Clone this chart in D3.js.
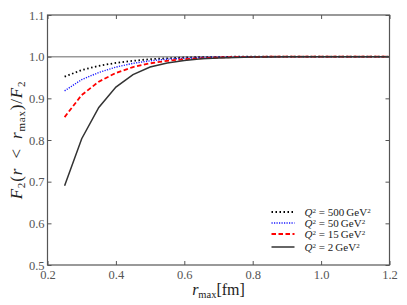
<!DOCTYPE html>
<html>
<head>
<meta charset="utf-8">
<script src="https://cdn.jsdelivr.net/npm/d3@7"></script>
<style>
  body { margin: 0; background: #fff; }
  text { font-family: "Liberation Serif", "DejaVu Serif", serif; }
</style>
</head>
<body>
<svg id="chart"></svg>
<script>
// r_max values (fm)
const rmax = [0.25, 0.30, 0.35, 0.40, 0.45, 0.50, 0.55, 0.60, 0.65, 0.70, 0.75, 0.80, 0.85, 0.90, 0.95, 1.00, 1.05, 1.10, 1.15, 1.20];
const q500 = [0.952, 0.968, 0.978, 0.985, 0.990, 0.994, 0.996, 0.998, 0.999, 0.999, 1, 1, 1, 1, 1, 1, 1, 1, 1, 1];
const q50  = [0.918, 0.945, 0.962, 0.975, 0.984, 0.990, 0.994, 0.996, 0.998, 0.999, 0.999, 1, 1, 1, 1, 1, 1, 1, 1, 1];
const q15  = [0.855, 0.908, 0.940, 0.961, 0.975, 0.984, 0.990, 0.994, 0.996, 0.998, 0.999, 0.999, 1, 1, 1, 1, 1, 1, 1, 1];
const q2   = [0.690, 0.803, 0.878, 0.927, 0.957, 0.975, 0.985, 0.991, 0.995, 0.997, 0.998, 0.999, 0.999, 1, 1, 1, 1, 1, 1, 1];
const labels = ['500', '50', '15', '2'];
const xTicks = [0.2, 0.4, 0.6, 0.8, 1.0, 1.2];
const yTicks = [0.5, 0.6, 0.7, 0.8, 0.9, 1.0, 1.1];

const largura = 407, altura = 305;
const m = {left: 47.5, right: 17.5, top: 15, bottom: 40};
const w = largura - m.left - m.right;
const h = altura - m.top - m.bottom;

const svg = d3.select('#chart').attr('width', largura).attr('height', altura);
const g = svg.append('g').attr('transform', `translate(${m.left},${m.top})`);

const x = d3.scaleLinear().domain([0.2, 1.2]).range([0, w]);
const y = d3.scaleLinear().domain([0.5, 1.1]).range([h, 0]);

// reference line at 1.0
g.append('line')
  .attr('x1', 0).attr('x2', w)
  .attr('y1', y(1)).attr('y2', y(1))
  .attr('stroke', '#999').attr('stroke-width', 1.5);

const series = [
  {vals: q500, color: '#000', dash: '1.5,2.5', width: 1.8},
  {vals: q50,  color: '#1a1aff', dash: '1.2,1.3', width: 1.4},
  {vals: q15,  color: '#ff0000', dash: '4.5,2.5', width: 1.8},
  {vals: q2,   color: '#333', dash: null, width: 1.5}
];

const linha = d3.line().x((d, i) => x(rmax[i])).y(d => y(d));

series.forEach(s => {
  g.append('path')
    .datum(s.vals)
    .attr('d', linha)
    .attr('fill', 'none')
    .attr('stroke', s.color)
    .attr('stroke-width', s.width)
    .attr('stroke-dasharray', s.dash);
});

// axes with inward ticks on all sides
const fmt = d3.format('.1f');
const estilo = sel => {
  sel.select('.domain').remove();
  sel.selectAll('.tick line').attr('stroke', '#555');
  sel.selectAll('.tick text').attr('fill', '#555').style('font-size', '12.5px')
    .style('font-family', '"Liberation Serif", serif');
};
g.append('g').attr('transform', `translate(0,${h})`)
  .call(d3.axisBottom(x).tickValues(xTicks).tickFormat(fmt).tickSizeInner(-4).tickPadding(5))
  .call(estilo);
g.append('g')
  .call(d3.axisTop(x).tickValues(xTicks).tickFormat('').tickSizeInner(-4))
  .call(estilo);
g.append('g')
  .call(d3.axisLeft(y).tickValues(yTicks).tickFormat(fmt).tickSizeInner(-4).tickPadding(3))
  .call(estilo);
g.append('g').attr('transform', `translate(${w},0)`)
  .call(d3.axisRight(y).tickValues(yTicks).tickFormat('').tickSizeInner(-4))
  .call(estilo);

g.append('rect')
  .attr('width', w).attr('height', h)
  .attr('fill', 'none').attr('stroke', '#555').attr('stroke-width', 1.2);

// legend
const leg = g.append('g').attr('transform', `translate(${271.5 - m.left},${212 - m.top})`);
const rowsY = [0, 11, 22, 35];
series.forEach((s, i) => {
  const r = leg.append('g').attr('transform', `translate(0,${rowsY[i]})`);
  r.append('line').attr('x1', 0).attr('x2', 23).attr('y1', 0).attr('y2', 0)
    .attr('stroke', s.color).attr('stroke-width', s.width).attr('stroke-dasharray', s.dash);
  const t = r.append('text').attr('x', 33).attr('y', 4).style('font-size', '11px').attr('fill', '#222');
  t.append('tspan').style('font-style', 'italic').text('Q');
  t.append('tspan').attr('dy', -3.5).style('font-size', '7px').text('2');
  t.append('tspan').attr('dy', 3.5).text(' = ' + labels[i] + '\u2009GeV');
  t.append('tspan').attr('dy', -3.5).style('font-size', '7px').text('2');
});

// axis labels
const xl = svg.append('text')
  .attr('x', m.left + w / 2).attr('y', 295)
  .attr('text-anchor', 'middle').style('font-size', '16px').attr('fill', '#222');
xl.append('tspan').style('font-style', 'italic').text('r');
xl.append('tspan').attr('dy', 3).style('font-size', '10.5px').text('max');
xl.append('tspan').attr('dy', -3).text('[fm]');

const yl = svg.append('text')
  .attr('transform', `translate(22,${m.top + h / 2}) rotate(-90)`)
  .attr('text-anchor', 'middle').style('font-size', '17px')
  .style('letter-spacing', '0.8px').attr('fill', '#222');
yl.append('tspan').style('font-style', 'italic').text('F');
yl.append('tspan').attr('dy', 3).style('font-size', '11px').text('2');
yl.append('tspan').attr('dy', -3).text('(');
yl.append('tspan').style('font-style', 'italic').text('r');
yl.append('tspan').text('\u2002<\u2002');
yl.append('tspan').style('font-style', 'italic').text('r');
yl.append('tspan').attr('dy', 3).style('font-size', '11px').text('max');
yl.append('tspan').attr('dy', -3).text(')/');
yl.append('tspan').style('font-style', 'italic').text('F');
yl.append('tspan').attr('dy', 3).style('font-size', '11px').text('2');
</script>
</body>
</html>
